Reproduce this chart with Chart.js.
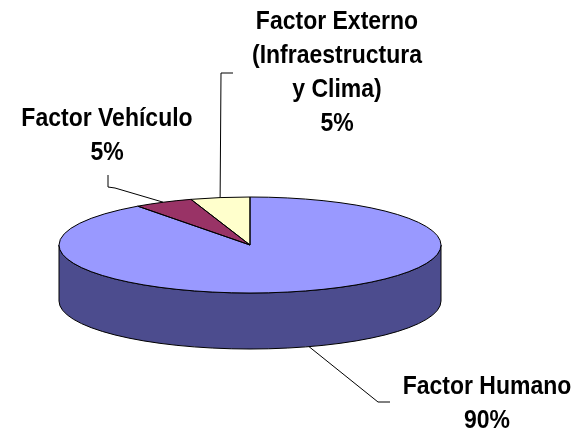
<!DOCTYPE html>
<html>
<head>
<meta charset="utf-8">
<script src="https://cdn.jsdelivr.net/npm/chart.js@4.4.0/dist/chart.umd.min.js"></script>
<style>
  html, body { margin: 0; padding: 0; background: #fff; }
  #wrap { width: 583px; height: 435px; }
</style>
</head>
<body>
<div id="wrap"><canvas id="chart" width="583" height="435"></canvas></div>
<script>
// Categories / values
const categories = ['Factor Humano', 'Factor Vehículo', ['Factor Externo', '(Infraestructura', 'y Clima)']];
const values = [90, 5, 5];

// Slice colours (top face / side wall)
const topColors = ['#9999FF', '#993366', '#FFFFCC'];
const sideColors = ['#4C4C8E', '#4D1A33', '#80806A'];

// Flattened 3d look
const tilt = { centerY: 245, ry: 48, depth: 56 };

// Label centre x, first baseline, leader points (label side first)
const labelLayout = [
    { x: 487, y: 394, leader: [[390, 402], [378, 402]], from: 'side' },
    { x: 107, y: 126, leader: [[108, 175], [108, 187], [115, 188]], from: 'top' },
    { x: 337, y: 29, leader: [[233, 73], [221, 73]], from: 'top' }
];

const total = values.reduce((a, b) => a + b, 0);

const pie3d = {
    id: 'pie3d',
    beforeDatasetsDraw(chart) {
        const ctx = chart.ctx;
        const arcs = chart.getDatasetMeta(0).data;
        const cx = arcs[0].x, cy = arcs[0].y, rx = arcs[0].outerRadius;
        const ty = tilt.centerY, ry = tilt.ry, d = tilt.depth;

        // side wall: only the front half (0..PI) shows
        ctx.save();
        ctx.lineWidth = 1;
        ctx.strokeStyle = '#000';
        arcs.forEach((arc, i) => {
            const a = Math.max(arc.startAngle, 0), b = Math.min(arc.endAngle, Math.PI);
            if (b <= a) return;
            ctx.beginPath();
            ctx.ellipse(cx, ty, rx, ry, 0, a, b);
            ctx.ellipse(cx, ty + d, rx, ry, 0, b, a, true);
            ctx.closePath();
            ctx.fillStyle = sideColors[i];
            ctx.fill();
            ctx.stroke();
        });
        ctx.restore();

        // squash the top face
        ctx.save();
        ctx.translate(cx, ty);
        ctx.scale(1, ry / rx);
        ctx.translate(-cx, -cy);
    },
    afterDatasetsDraw(chart) {
        const ctx = chart.ctx;
        ctx.restore();

        const arcs = chart.getDatasetMeta(0).data;
        const cx = arcs[0].x, rx = arcs[0].outerRadius;
        const ty = tilt.centerY, ry = tilt.ry, d = tilt.depth;

        ctx.save();
        ctx.lineWidth = 1;
        ctx.strokeStyle = '#000';

        // slice outlines
        arcs.forEach(arc => {
            ctx.beginPath();
            ctx.moveTo(cx, ty);
            ctx.ellipse(cx, ty, rx, ry, 0, arc.startAngle, arc.endAngle);
            ctx.closePath();
            ctx.stroke();
        });

        // leaders + labels
        ctx.font = 'bold 23px "Liberation Sans", Arial, sans-serif';
        ctx.fillStyle = '#000';
        ctx.textAlign = 'center';
        ctx.textBaseline = 'alphabetic';

        arcs.forEach((arc, i) => {
            const lay = labelLayout[i];
            const mid = (arc.startAngle + arc.endAngle) / 2;
            const ax = cx + rx * Math.cos(mid);
            const ay = ty + ry * Math.sin(mid) + (lay.from === 'side' ? d : 0);

            ctx.beginPath();
            lay.leader.forEach((p, j) => j ? ctx.lineTo(p[0], p[1]) : ctx.moveTo(p[0], p[1]));
            ctx.lineTo(ax, ay);
            ctx.stroke();

            // text is a bit taller than plain Arial in the original
            const lines = [].concat(categories[i], Math.round(values[i] / total * 100) + '%');
            lines.forEach((t, j) => {
                ctx.save();
                ctx.translate(lay.x, lay.y + j * 34);
                ctx.scale(1, 1.1);
                ctx.fillText(t, 0, 0);
                ctx.restore();
            });
        });
        ctx.restore();
    }
};

new Chart(document.getElementById('chart'), {
    type: 'pie',
    data: {
        labels: categories,
        datasets: [{
            data: values,
            backgroundColor: topColors,
            borderWidth: 0,
            hoverOffset: 0
        }]
    },
    options: {
        responsive: false,
        animation: false,
        events: [],
        radius: 191,
        layout: { padding: { left: 59, right: 142, top: 26, bottom: 27 } },
        plugins: {
            legend: { display: false },
            tooltip: { enabled: false }
        }
    },
    plugins: [pie3d]
});
</script>
</body>
</html>
